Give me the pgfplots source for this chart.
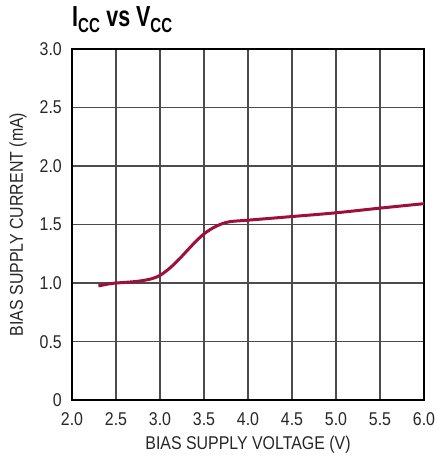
\documentclass[border=0pt]{standalone}
\usepackage{pgfplots}
\pgfplotsset{compat=1.18}
\usepackage{fontspec}
\setmainfont{Liberation Sans}[FakeStretch=0.86]
\newfontfamily\titlefont{Liberation Sans}[FakeStretch=0.74]
\definecolor{curve}{RGB}{158,16,58}
\begin{document}
\begin{tikzpicture}
\begin{axis}[
  scale only axis,
  width=352pt, height=351pt,
  xmin=2, xmax=6, ymin=0, ymax=3,
  xtick={2,2.5,...,6}, ytick={0,0.5,...,3},
  xticklabels={2.0,2.5,3.0,3.5,4.0,4.5,5.0,5.5,6.0},
  yticklabels={0,0.5,1.0,1.5,2.0,2.5,3.0},
  major tick length=0pt,
  grid=major,
  grid style={line width=1.4pt, black!70},
  axis line style={line width=1.7pt, black},
  tick label style={font=\fontsize{18.5}{20}\selectfont, text=black!85, inner sep=0pt},
  xticklabel style={anchor=base, yshift=-25pt},
  yticklabel style={anchor=base east, xshift=-10pt, yshift=-6.5pt},
  xlabel={BIAS SUPPLY VOLTAGE (V)},
  ylabel={BIAS SUPPLY CURRENT (mA)},
  label style={font=\fontsize{18.5}{20}\selectfont, text=black!85, inner sep=0pt},
  xlabel style={at={([yshift=-49pt]axis description cs:0.5,0)}, anchor=base},
  ylabel style={at={([xshift=-49pt]axis description cs:0,0.5)}, anchor=base, rotate=0},
]
\addplot[curve, line width=3pt, smooth, tension=0.5] coordinates {
(2.3,0.975) (2.4,0.99) (2.5,1.0) (2.6,1.005) (2.75,1.015) (2.9,1.035)
(3.0,1.065) (3.1,1.12) (3.2,1.19) (3.3,1.27) (3.4,1.35) (3.5,1.42)
(3.6,1.47) (3.7,1.505) (3.8,1.525) (4.0,1.537) (4.5,1.568) (5.0,1.60)
(5.5,1.64) (6.0,1.678)
};
\end{axis}
\node[anchor=base west, inner sep=0pt, font=\titlefont\bfseries\fontsize{29}{32}\selectfont]
  at ([yshift=22pt]current axis.north west) {I\textsubscript{CC} vs V\textsubscript{CC}};
\path[use as bounding box] ([shift={(-72pt,-58pt)}]current axis.south west) rectangle ([shift={(13pt,49pt)}]current axis.north east);
\end{tikzpicture}
\end{document}
